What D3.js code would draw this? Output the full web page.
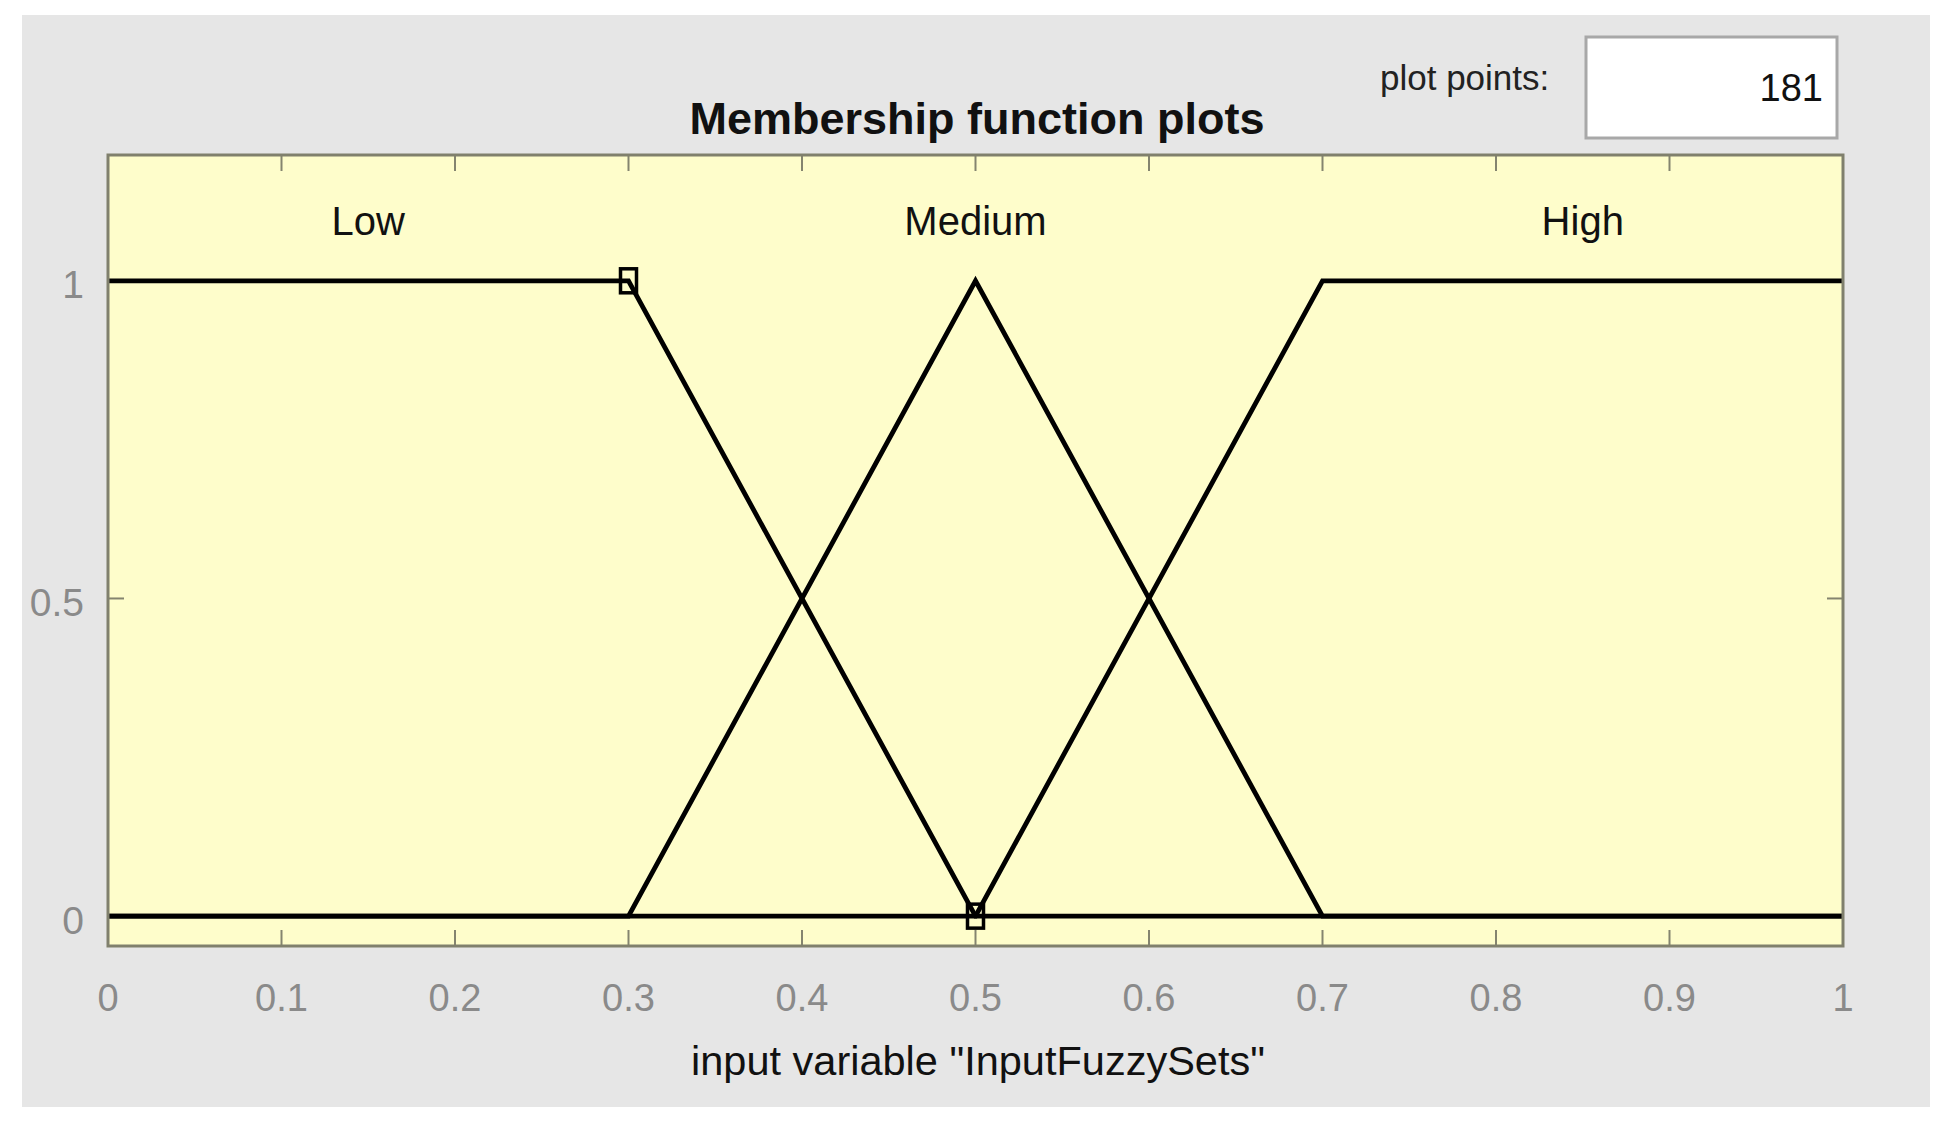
<!DOCTYPE html>
<html>
<head>
<meta charset="utf-8">
<script src="https://cdn.jsdelivr.net/npm/d3@7"></script>
<style>
  html, body { margin: 0; padding: 0; background: #ffffff; }
  svg { display: block; font-family: "Liberation Sans", Arial, sans-serif; }
</style>
</head>
<body>
<svg id="chart" width="1950" height="1128"></svg>
<script>
// ---- data ----
const mfNames = ["Low", "Medium", "High"];
const mfLabelX = [0.15, 0.5, 0.85];
const lowX = [0, 0.3, 0.5, 1];
const lowY = [1, 1, 0, 0];
const mediumX = [0, 0.3, 0.5, 0.7, 1];
const mediumY = [0, 0, 1, 0, 0];
const highX = [0, 0.5, 0.7, 1];
const highY = [0, 0, 1, 1];
const selectedX = [0.3, 0.5];   // handles of the selected set (Low)
const selectedY = [1, 0];
const xTicks = [0, 0.1, 0.2, 0.3, 0.4, 0.5, 0.6, 0.7, 0.8, 0.9, 1];
const yTicks = [0, 0.5, 1];
const titleText = "Membership function plots";
const xLabelText = "input variable \"InputFuzzySets\"";
const plotPointsLabel = "plot points:";
const plotPointsValue = "181";

// ---- layout ----
const svg = d3.select("#chart");
const pL = 108, pR = 1843, pT = 155, pB = 946;
const x = d3.scaleLinear().domain([0, 1]).range([pL, pR]);
const y = d3.scaleLinear().domain([-0.047, 1.198]).range([pB, pT]);

// gray figure panel
svg.append("rect").attr("x", 22).attr("y", 15).attr("width", 1908).attr("height", 1092)
  .attr("fill", "#e6e6e6");

// plot background
svg.append("rect").attr("x", pL).attr("y", pT).attr("width", pR - pL).attr("height", pB - pT)
  .attr("fill", "#fefdcb");

// ticks (inside), on all four sides
const tickLen = 16, tickColor = "#84846f";
const tg = svg.append("g");
xTicks.forEach(t => {
  tg.append("line").attr("x1", x(t)).attr("x2", x(t)).attr("y1", pB).attr("y2", pB - tickLen)
    .attr("stroke", tickColor).attr("stroke-width", 2);
  tg.append("line").attr("x1", x(t)).attr("x2", x(t)).attr("y1", pT).attr("y2", pT + tickLen)
    .attr("stroke", tickColor).attr("stroke-width", 2);
});
yTicks.forEach(t => {
  tg.append("line").attr("x1", pL).attr("x2", pL + tickLen).attr("y1", y(t)).attr("y2", y(t))
    .attr("stroke", tickColor).attr("stroke-width", 2);
  tg.append("line").attr("x1", pR).attr("x2", pR - tickLen).attr("y1", y(t)).attr("y2", y(t))
    .attr("stroke", tickColor).attr("stroke-width", 2);
});

// membership function lines
const line = d3.line().x(d => x(d[0])).y(d => y(d[1]));
const series = [[lowX, lowY], [mediumX, mediumY], [highX, highY]];
series.forEach(([xs, ys]) => {
  svg.append("path").datum(xs.map((v, i) => [v, ys[i]]))
    .attr("d", line).attr("fill", "none").attr("stroke", "#000").attr("stroke-width", 4.8)
    .attr("stroke-linejoin", "miter");
});

// selected handles
selectedX.forEach((v, i) => {
  svg.append("rect").attr("x", x(v) - 8).attr("y", y(selectedY[i]) - 12)
    .attr("width", 16).attr("height", 24)
    .attr("fill", "none").attr("stroke", "#000").attr("stroke-width", 3.5);
});

// axis box
svg.append("rect").attr("x", pL).attr("y", pT).attr("width", pR - pL).attr("height", pB - pT)
  .attr("fill", "none").attr("stroke", "#80806d").attr("stroke-width", 3);

// tick labels
const labelColor = "#8a8a8a";
svg.append("g").selectAll("text").data(xTicks).join("text")
  .attr("x", d => x(d)).attr("y", 998).attr("text-anchor", "middle").attr("dominant-baseline", "central")
  .attr("font-size", 38).attr("fill", labelColor).text(d => d3.format("~g")(d));
svg.append("g").selectAll("text").data(yTicks).join("text")
  .attr("x", 84).attr("y", d => y(d) + 4).attr("text-anchor", "end").attr("dominant-baseline", "central")
  .attr("font-size", 39).attr("fill", labelColor).text(d => d3.format("~g")(d));

// MF names
svg.append("g").selectAll("text").data(mfNames).join("text")
  .attr("x", (d, i) => x(mfLabelX[i])).attr("y", 221).attr("text-anchor", "middle").attr("dominant-baseline", "central")
  .attr("font-size", 40).attr("fill", "#111").text(d => d);

// title
svg.append("text").attr("x", 977).attr("y", 118).attr("text-anchor", "middle").attr("dominant-baseline", "central")
  .attr("font-size", 45).attr("font-weight", "bold").attr("fill", "#111").text(titleText);

// x label
svg.append("text").attr("x", 978).attr("y", 1060).attr("text-anchor", "middle").attr("dominant-baseline", "central")
  .attr("font-size", 41.5).attr("fill", "#111").text(xLabelText);

// plot points control
svg.append("text").attr("x", 1380).attr("y", 77).attr("dominant-baseline", "central")
  .attr("font-size", 35).attr("fill", "#222").text(plotPointsLabel);
svg.append("rect").attr("x", 1586).attr("y", 37).attr("width", 251).attr("height", 101)
  .attr("fill", "#ffffff").attr("stroke", "#a8a8a8").attr("stroke-width", 3);
svg.append("text").attr("x", 1823).attr("y", 88).attr("text-anchor", "end").attr("dominant-baseline", "central")
  .attr("font-size", 38).attr("fill", "#111").text(plotPointsValue);
</script>
</body>
</html>
